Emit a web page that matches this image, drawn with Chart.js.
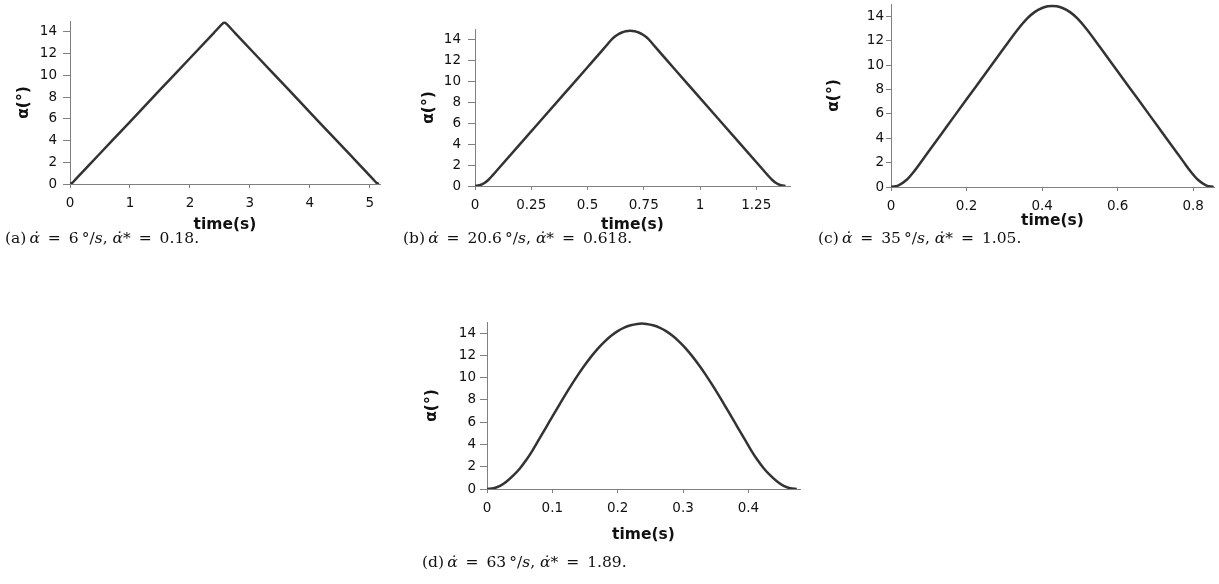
<!DOCTYPE html>
<html>
<head>
<meta charset="utf-8">
<script src="https://cdn.jsdelivr.net/npm/chart.js@4.4.1/dist/chart.umd.min.js"></script>
<style>
  body { margin: 0; background: #fff; width: 1219px; height: 584px; overflow: hidden; position: relative; }
  canvas { position: absolute; }
  .cap { position: absolute; font-family: "DejaVu Serif", serif; font-size: 15.5px; line-height: 18px; color: #111; white-space: nowrap; }
  .cap .eq { margin: 0 3px; }
</style>
</head>
<body>
<canvas id="chartA"></canvas>
<canvas id="chartB"></canvas>
<canvas id="chartC"></canvas>
<canvas id="chartD"></canvas>
<div class="cap" style="left:5px;top:229px">(a)&thinsp;<i>α̇</i> <span class="eq">=</span> 6&thinsp;°/<i>s</i>, <i>α̇</i>* <span class="eq">=</span> 0.18.</div>
<div class="cap" style="left:403px;top:229px">(b)&thinsp;<i>α̇</i> <span class="eq">=</span> 20.6&thinsp;°/<i>s</i>, <i>α̇</i>* <span class="eq">=</span> 0.618.</div>
<div class="cap" style="left:818px;top:229px">(c)&thinsp;<i>α̇</i> <span class="eq">=</span> 35&thinsp;°/<i>s</i>, <i>α̇</i>* <span class="eq">=</span> 1.05.</div>
<div class="cap" style="left:422px;top:553px">(d)&thinsp;<i>α̇</i> <span class="eq">=</span> 63&thinsp;°/<i>s</i>, <i>α̇</i>* <span class="eq">=</span> 1.89.</div>
<script>
// values (time in s, alpha in degrees)
const aTime = [0, 0.04, 0.1, 0.5, 1, 1.5, 2, 2.4, 2.54, 2.56, 2.575, 2.59, 2.61, 2.75, 3.15, 3.65, 4.15, 4.65, 5.05, 5.11, 5.15];
const aAlpha = [0, 0.12, 0.47, 2.81, 5.73, 8.66, 11.58, 13.92, 14.74, 14.83, 14.85, 14.83, 14.74, 13.92, 11.58, 8.66, 5.73, 2.81, 0.47, 0.12, 0];
const aXTicks = [0, 1, 2, 3, 4, 5];

const bTime = [0, 0.02, 0.04, 0.06, 0.08, 0.1, 0.2, 0.3, 0.4, 0.5, 0.55, 0.59, 0.61, 0.63, 0.65, 0.67, 0.69,
  0.71, 0.73, 0.75, 0.77, 0.79, 0.83, 0.88, 0.98, 1.08, 1.18, 1.28, 1.3, 1.32, 1.34, 1.36, 1.38];
const bAlpha = [0, 0.07, 0.26, 0.6, 1.06, 1.55, 4.0, 6.45, 8.9, 11.35, 12.58, 13.58, 14.07, 14.41, 14.65, 14.8, 14.85,
  14.8, 14.65, 14.41, 14.07, 13.58, 12.58, 11.35, 8.9, 6.45, 4.0, 1.55, 1.06, 0.6, 0.26, 0.07, 0];
const bXTicks = [0, 0.25, 0.5, 0.75, 1, 1.25];

const cTime = [0, 0.02, 0.04, 0.062, 0.08, 0.1, 0.15, 0.2, 0.25, 0.3, 0.335, 0.36, 0.38, 0.4, 0.415, 0.427,
  0.439, 0.454, 0.474, 0.494, 0.519, 0.554, 0.604, 0.654, 0.704, 0.754, 0.774, 0.792, 0.814, 0.834, 0.854];
const cAlpha = [0, 0.14, 0.55, 1.32, 2.08, 2.93, 5.06, 7.19, 9.31, 11.44, 12.9, 13.81, 14.34, 14.68, 14.82, 14.85,
  14.82, 14.68, 14.34, 13.81, 12.9, 11.44, 9.31, 7.19, 5.06, 2.93, 2.08, 1.32, 0.55, 0.14, 0];
const cXTicks = [0, 0.2, 0.4, 0.6, 0.8];

const dTime = [0, 0.01, 0.02, 0.03, 0.04, 0.05, 0.06, 0.07, 0.08, 0.09, 0.1, 0.11, 0.12, 0.13, 0.14, 0.15, 0.16, 0.17, 0.18, 0.19, 0.2, 0.21, 0.22, 0.23, 0.237,
  0.244, 0.254, 0.264, 0.274, 0.284, 0.294, 0.304, 0.314, 0.324, 0.334, 0.344, 0.354, 0.364, 0.374, 0.384, 0.394, 0.404, 0.414, 0.424, 0.434, 0.444, 0.454, 0.464, 0.474];
const dAlpha = [0, 0.06, 0.28, 0.68, 1.2, 1.82, 2.6, 3.5, 4.5, 5.5, 6.5, 7.5, 8.48, 9.42, 10.32, 11.16, 11.94, 12.64, 13.25, 13.77, 14.19, 14.5, 14.71, 14.83, 14.87,
  14.83, 14.71, 14.5, 14.19, 13.77, 13.25, 12.64, 11.94, 11.16, 10.32, 9.42, 8.48, 7.5, 6.5, 5.5, 4.5, 3.5, 2.6, 1.82, 1.2, 0.68, 0.28, 0.06, 0];
const dXTicks = [0, 0.1, 0.2, 0.3, 0.4];

const yTicks = [0, 2, 4, 6, 8, 10, 12, 14];
const yMax = 15;

// plot box of each panel on the page (L,R,T,B in px) and axis spacing
const panels = [
  { id: "chartA", time: aTime, alpha: aAlpha, xTicks: aXTicks, xMax: 5.17, L: 70, R: 380, T: 15, B: 184, yTick: 7, yPad: 6, yTitle: 46, xTitle: 41 },
  { id: "chartB", time: bTime, alpha: bAlpha, xTicks: bXTicks, xMax: 1.4, L: 475, R: 790, T: 22, B: 186, yTick: 7, yPad: 7, yTitle: 46, xTitle: 39 },
  { id: "chartC", time: cTime, alpha: cAlpha, xTicks: cXTicks, xMax: 0.855, L: 891, R: 1214, T: 2, B: 187, yTick: 5, yPad: 2, yTitle: 57, xTitle: 34 },
  { id: "chartD", time: dTime, alpha: dAlpha, xTicks: dXTicks, xMax: 0.479, L: 487, R: 800, T: 318, B: 489, yTick: 7, yPad: 4, yTitle: 55, xTitle: 46 },
];

const Y_BOX = 80;
const X_BOX = 70;
const PAD = 8;
const tickFont = { family: "DejaVu Sans", size: 13.5 };
const titleFont = { family: "DejaVu Sans", size: 15.5, weight: "bold", lineHeight: 1.2 };
const halfTitle = 15.5 * 1.2 / 2;

function makeChart(p) {
  const canvas = document.getElementById(p.id);
  canvas.width = p.R - p.L + Y_BOX + PAD;
  canvas.height = p.B - p.T + PAD + X_BOX;
  canvas.style.left = (p.L - Y_BOX) + "px";
  canvas.style.top = (p.T - PAD) + "px";

  const points = p.time.map((t, i) => ({ x: t, y: p.alpha[i] }));

  return new Chart(canvas.getContext("2d"), {
    type: "line",
    data: {
      datasets: [
        {
          data: points,
          borderColor: "#333",
          borderWidth: 2.5,
          pointRadius: 0,
          cubicInterpolationMode: "monotone",
          fill: false,
        },
      ],
    },
    options: {
      responsive: false,
      animation: false,
      devicePixelRatio: 1,
      layout: { padding: { left: 0, top: PAD, right: PAD, bottom: 0 } },
      plugins: { legend: { display: false }, tooltip: { enabled: false } },
      scales: {
        x: {
          type: "linear",
          min: 0,
          max: p.xMax,
          afterBuildTicks: (scale) => {
            scale.ticks = p.xTicks.map((v) => ({ value: v }));
          },
          afterFit: (scale) => {
            scale.height = X_BOX;
          },
          ticks: { color: "#111", font: tickFont, padding: 7, maxRotation: 0, callback: (v) => String(v) },
          grid: { drawOnChartArea: false, drawTicks: true, tickLength: 4, color: "#808080" },
          border: { color: "#808080", width: 1 },
          title: {
            display: true,
            text: "time(s)",
            color: "#111",
            font: titleFont,
            padding: { top: 0, bottom: X_BOX - p.xTitle - halfTitle },
          },
        },
        y: {
          min: 0,
          max: yMax,
          afterBuildTicks: (scale) => {
            scale.ticks = yTicks.map((v) => ({ value: v }));
          },
          afterFit: (scale) => {
            scale.width = Y_BOX;
          },
          ticks: { color: "#111", font: tickFont, padding: p.yPad, callback: (v) => String(v) },
          grid: { drawOnChartArea: false, drawTicks: true, tickLength: p.yTick, color: "#808080" },
          border: { color: "#808080", width: 1 },
          title: {
            display: true,
            text: "α(°)",
            color: "#111",
            font: titleFont,
            padding: { top: Y_BOX - p.yTitle - halfTitle, bottom: 0 },
          },
        },
      },
    },
  });
}

panels.forEach(makeChart);
</script>
</body>
</html>
